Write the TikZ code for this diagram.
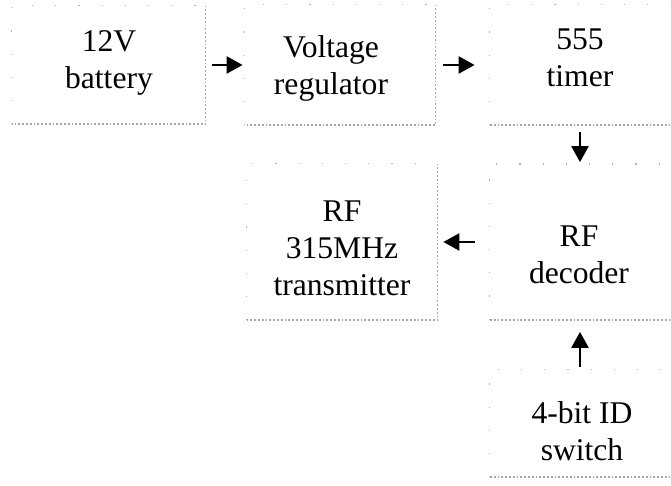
\documentclass[tikz,border=0pt]{standalone}
\usepackage{fontspec}
\setmainfont{Liberation Serif}
\usetikzlibrary{arrows.meta}

\begin{document}
\begin{tikzpicture}[x=0.5pt,y=-0.5pt,
  blk/.style={inner sep=0pt},
  txt/.style={align=center, inner sep=0pt, font=\fontsize{15.8}{18.5}\selectfont},
  hardedge/.style={gray!70, line width=0.9pt, densely dotted},
  softedge/.style={gray!60, line width=0.6pt, dash pattern=on 0.6pt off 11pt},
  arr/.style={-{Triangle[length=8pt,width=8.5pt]}, line width=1.2pt}]
\useasboundingbox (0,0) rectangle (671,486);
% blocks
\node [blk, minimum width=96.5pt, minimum height=59pt] (bat) at (108.5,65) {};
\node [blk, minimum width=95pt, minimum height=60pt] (reg) at (340,65) {};
\node [blk, minimum width=90pt, minimum height=60pt] (tim) at (580,65) {};
\node [blk, minimum width=95pt, minimum height=78pt] (rf) at (342,242) {};
\node [blk, minimum width=90pt, minimum height=77.5pt] (dec) at (580,242) {};
\node [blk, minimum width=90pt, minimum height=53.5pt] (sw) at (580,423.5) {};
% labels
\node [txt] (battxt) at (109,63) {12V\\battery};
\node [txt] (regtxt) at (331,68) {Voltage\\regulator};
\node [txt] (timtxt) at (580,58) {555\\timer};
\node [txt] (rftxt) at (342,248) {RF\\315MHz\\transmitter};
\node [txt] (dectxt) at (579,255) {RF\\decoder};
\node [txt] (swtxt) at (582,431) {4-bit ID\\switch};
% edges
\draw [hardedge] (bat.north east) -- (bat.south east) -- (bat.south west);
\draw [softedge] (bat.south west) -- (bat.north west) -- (bat.north east);
\draw [hardedge] (reg.north east) -- (reg.south east) -- (reg.south west);
\draw [softedge] (reg.south west) -- (reg.north west) -- (reg.north east);
\draw [hardedge] (tim.south east) -- (tim.south west);
\draw [softedge] (tim.south west) -- (tim.north west) -- (tim.north east);
\draw [hardedge] (rf.north east) -- (rf.south east) -- (rf.south west);
\draw [softedge] (rf.south west) -- (rf.north west) -- (rf.north east);
\draw [hardedge] (dec.south east) -- (dec.south west);
\draw [softedge] (dec.south west) -- (dec.north west) -- (dec.north east);
\draw [hardedge] (sw.south east) -- (sw.south west);
\draw [softedge] (sw.south west) -- (sw.north west) -- (sw.north east);
% arrows
\draw [arr, shorten <=3.5pt, shorten >=1pt] (bat) -- (reg);
\draw [arr, shorten <=4pt, shorten >=7.5pt] (reg) -- (tim);
\draw [arr, shorten <=3.5pt, shorten >=1pt] (tim) -- (dec);
\draw [arr, shorten <=7.5pt, shorten >=3pt] (dec) -- (rf);
\draw [arr, shorten <=1.5pt, shorten >=6pt] (sw) -- (dec);
\end{tikzpicture}
\end{document}
